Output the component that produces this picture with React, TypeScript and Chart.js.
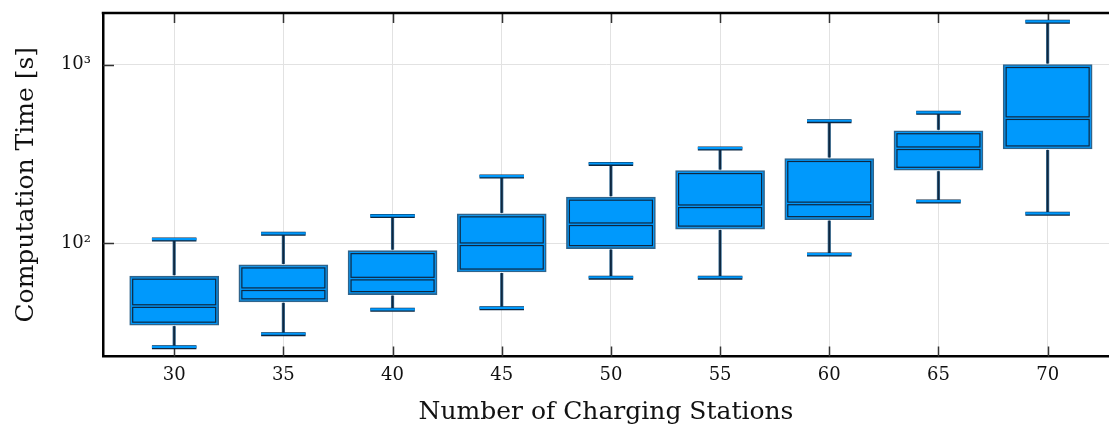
import { useEffect, useRef } from "react";
import { Chart, registerables } from "chart.js";

Chart.register(...registerables);

// ---- data ----
const stations = [30, 35, 40, 45, 50, 55, 60, 65, 70];
const whiskerLow = [26.2, 31, 42.4, 43.3, 64.2, 64.2, 86.4, 171, 146];
const quartile1 = [34.8, 47, 51.6, 69, 93.3, 120, 135.5, 256, 337];
const medians = [44.5, 55.3, 63.4, 98.7, 127.7, 161, 167, 340, 501];
const quartile3 = [65.4, 75.6, 90.9, 146, 181, 255, 298, 426, 1000];
const whiskerHigh = [105, 113, 142, 236, 278, 339, 482, 537, 1734];
const yTickValues = [100, 1000];
const yTickLabels = ["10²", "10³"];

const FONT = "'DejaVu Serif', serif";
const FILL = "#0099fc";
const DARK = "#0e2740";

const boxPlugin = {
  id: "boxExtras",
  beforeDatasetsDraw(chart: any) {
    const { ctx, chartArea, scales } = chart;
    const xs = scales.x;
    const ys = scales.y;
    ctx.save();
    ctx.strokeStyle = "#333";
    ctx.lineWidth = 1.5;
    ctx.beginPath();
    xs.ticks.forEach((t: any) => {
      const px = Math.round(xs.getPixelForValue(t.value)) + 0.5;
      ctx.moveTo(px, chartArea.bottom);
      ctx.lineTo(px, chartArea.bottom - 10);
      ctx.moveTo(px, chartArea.top);
      ctx.lineTo(px, chartArea.top + 10);
    });
    ys.ticks.forEach((t: any) => {
      const py = Math.round(ys.getPixelForValue(t.value)) + 0.5;
      ctx.moveTo(chartArea.left, py);
      ctx.lineTo(chartArea.left + 11, py);
    });
    ctx.stroke();
    ctx.restore();
  },
  afterDatasetsDraw(chart: any) {
    const { ctx, scales } = chart;
    const xs = scales.x;
    const ys = scales.y;
    const meta = chart.getDatasetMeta(0);
    ctx.save();
    stations.forEach((s, i) => {
      const bar = meta.data[i];
      const half = bar.width / 2;
      const cx = xs.getPixelForValue(s);
      const yq1 = ys.getPixelForValue(quartile1[i]);
      const yq3 = ys.getPixelForValue(quartile3[i]);
      const ymed = ys.getPixelForValue(medians[i]);
      const ylo = ys.getPixelForValue(whiskerLow[i]);
      const yhi = ys.getPixelForValue(whiskerHigh[i]);
      const drawV = (a: number, b: number) => {
        ctx.lineCap = "butt";
        ctx.strokeStyle = "#3b6f96";
        ctx.lineWidth = 3.2;
        ctx.beginPath();
        ctx.moveTo(cx, a);
        ctx.lineTo(cx, b);
        ctx.stroke();
        ctx.strokeStyle = DARK;
        ctx.lineWidth = 1.8;
        ctx.beginPath();
        ctx.moveTo(cx, a);
        ctx.lineTo(cx, b);
        ctx.stroke();
      };
      drawV(yq3 - 1, yhi);
      drawV(yq1 + 1, ylo);
      const capHalf = half / 2;
      [yhi, ylo].forEach((py) => {
        ctx.strokeStyle = DARK;
        ctx.lineWidth = 4;
        ctx.beginPath();
        ctx.moveTo(cx - capHalf, py);
        ctx.lineTo(cx + capHalf, py);
        ctx.stroke();
        ctx.strokeStyle = FILL;
        ctx.lineWidth = 2.2;
        ctx.beginPath();
        ctx.moveTo(cx - capHalf, py - 0.4);
        ctx.lineTo(cx + capHalf, py - 0.4);
        ctx.stroke();
      });
      ctx.strokeStyle = DARK;
      ctx.lineWidth = 1.2;
      const l = cx - half + 3;
      const w = 2 * half - 6;
      ctx.strokeRect(l, yq3 + 3, w, ymed - 1.3 - (yq3 + 3));
      ctx.strokeRect(l, ymed + 1.3, w, yq1 - 3 - (ymed + 1.3));
    });
    ctx.restore();
  },
  afterDraw(chart: any) {
    const { ctx, chartArea } = chart;
    ctx.save();
    ctx.strokeStyle = "#000";
    ctx.lineWidth = 2.5;
    ctx.beginPath();
    ctx.moveTo(chartArea.left - 1.25, chartArea.top);
    ctx.lineTo(chart.width, chartArea.top);
    ctx.stroke();
    ctx.restore();
  },
};

export default function App() {
  const canvasRef = useRef<HTMLCanvasElement | null>(null);

  useEffect(() => {
    if (!canvasRef.current) return;
    Chart.defaults.font.family = FONT;
    Chart.defaults.color = "#111";
    const chart = new Chart(canvasRef.current, {
      type: "bar",
      data: {
        datasets: [
          {
            data: stations.map((s, i) => ({ x: s, y: [quartile1[i], quartile3[i]] })) as any,
            backgroundColor: FILL,
            borderColor: "#2f648c",
            borderWidth: 1.6,
            borderSkipped: false,
            barThickness: 89,
          },
        ],
      },
      options: {
        animation: false,
        responsive: true,
        maintainAspectRatio: false,
        layout: { padding: { top: 13, left: 0, right: 0, bottom: 0 } },
        plugins: { legend: { display: false }, tooltip: { enabled: false } },
        scales: {
          x: {
            type: "linear",
            offset: false,
            min: 26.74,
            max: 72.81,
            afterBuildTicks: (scale: any) => {
              scale.ticks = stations.map((v) => ({ value: v }));
            },
            afterFit: (scale: any) => {
              scale.height = 68.5;
              scale.paddingLeft = 0;
              scale.paddingRight = 0;
            },
            ticks: {
              font: { size: 18, family: FONT },
              color: "#111",
              padding: 8,
              maxRotation: 0,
              callback: (v: any) => String(v),
            },
            grid: { color: "#e2e2e2", lineWidth: 1, drawTicks: false, offset: false },
            border: { display: true, color: "#000", width: 2.5 },
            title: {
              display: true,
              text: "Number of Charging Stations",
              font: { size: 25, family: FONT, lineHeight: 1 },
              color: "#111",
              padding: { top: 0, bottom: 0 },
            },
          },
          y: {
            type: "logarithmic",
            min: 23.24,
            max: 1942,
            afterBuildTicks: (scale: any) => {
              scale.ticks = yTickValues.map((v) => ({ value: v }));
            },
            afterFit: (scale: any) => {
              scale.width = 103;
              scale.paddingTop = 0;
              scale.paddingBottom = 0;
            },
            ticks: {
              font: { size: 18, family: FONT },
              color: "#111",
              padding: 12,
              callback: (v: any) => {
                const idx = yTickValues.indexOf(Number(v));
                return idx >= 0 ? yTickLabels[idx] : "";
              },
            },
            grid: { color: "#e2e2e2", lineWidth: 1, drawTicks: false },
            border: { display: true, color: "#000", width: 2.5 },
            title: {
              display: true,
              text: "Computation Time [s]",
              font: { size: 25, family: FONT, lineHeight: 1 },
              color: "#111",
              padding: { top: 14, bottom: 0 },
            },
          },
        },
      },
      plugins: [boxPlugin],
    });
    return () => chart.destroy();
  }, []);

  return (
    <div style={{ position: "absolute", left: 0, top: 0, width: 1109, height: 425 }}>
      <canvas ref={canvasRef} />
    </div>
  );
}
